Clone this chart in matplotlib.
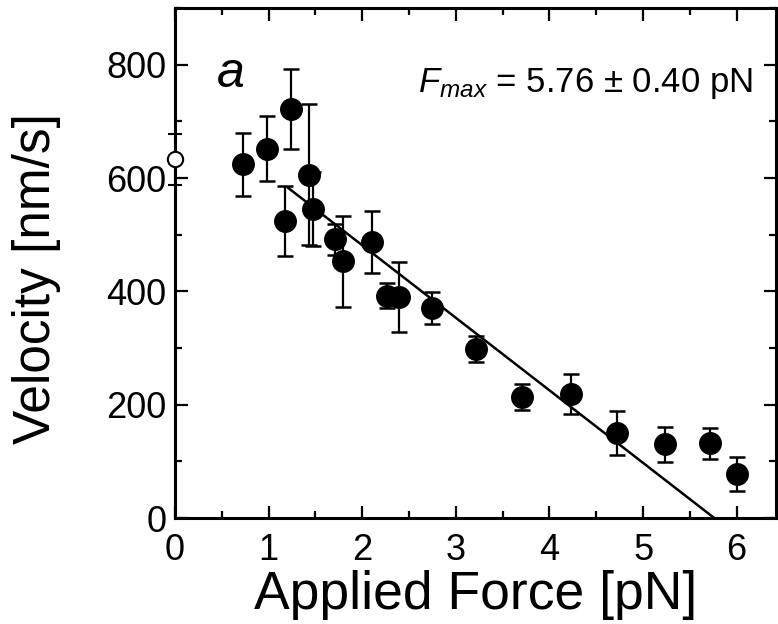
import matplotlib
matplotlib.use("Agg")
import matplotlib.pyplot as plt
from matplotlib.ticker import MultipleLocator
import numpy as np

plt.rcParams['font.family'] = ['Liberation Sans', 'DejaVu Sans']
plt.rcParams['mathtext.fontset'] = 'custom'
plt.rcParams['mathtext.rm'] = 'Liberation Sans'
plt.rcParams['mathtext.it'] = 'Liberation Sans:italic'

# Data (filled circles)
force = [0.73, 0.98, 1.24, 1.43, 1.47, 1.18, 1.71, 1.79, 2.10, 2.26, 2.39,
         2.75, 3.21, 3.71, 4.23, 4.72, 5.23, 5.71, 6.00]
velocity = [624, 652, 722, 606, 545, 524, 492, 453, 487, 392, 390,
            371, 299, 213, 219, 150, 130, 132, 77]
err = [55, 57, 70, 125, 65, 62, 27, 80, 55, 22, 62,
       28, 23, 23, 35, 38, 31, 27, 30]

# Zero-load point (open circle)
force0 = [0.0]
velocity0 = [633]
err0 = [45]

# Linear fit
fmax = 5.76
slope = -128.0
fit_f = [1.21, fmax]
fit_v = [slope * (f - fmax) for f in fit_f]

fig = plt.figure(figsize=(7.78, 6.24), dpi=100)
ax = fig.add_axes([175/778, (624-518)/624, (776-175)/778, (518-8)/624])

ax.plot(fit_f, fit_v, color='black', lw=1.8, zorder=2)
ax.errorbar(force, velocity, yerr=err, fmt='o', color='black', ms=15.5,
            elinewidth=1.6, capsize=6, capthick=1.8, zorder=3)
ax.errorbar(force0, velocity0, yerr=err0, fmt='o', mfc='white', mec='black',
            color='black', ms=11, mew=1.5, elinewidth=1.5, capsize=5,
            capthick=1.5, zorder=4, clip_on=False)

ax.set_xlim(0, 6.42)
ax.set_ylim(0, 900)
ax.xaxis.set_major_locator(MultipleLocator(1))
ax.xaxis.set_minor_locator(MultipleLocator(0.5))
ax.yaxis.set_major_locator(MultipleLocator(200))
ax.yaxis.set_minor_locator(MultipleLocator(100))
ax.tick_params(which='both', direction='in', top=True, right=True,
               width=1.6, labelsize=26, colors='black')
ax.tick_params(which='major', length=9)
ax.tick_params(which='minor', length=5)
ax.tick_params(axis='x', pad=11)
ax.tick_params(axis='y', pad=6)
for s in ax.spines.values():
    s.set_linewidth(2.2)

ax.set_xlabel('Applied Force [pN]', fontsize=38.5, labelpad=1)
ax.set_ylabel('Velocity [nm/s]', fontsize=37)
ax.yaxis.set_label_coords(-0.19, 0.47)

ax.text(0.60, 783, 'a', fontsize=36, style='italic', va='center', ha='center')
ax.text(2.60, 767, r'$F_{max}$ = 5.76 $\pm$ 0.40 pN', fontsize=25,
        va='center', ha='left')

fig.savefig('out.png', dpi=100)
